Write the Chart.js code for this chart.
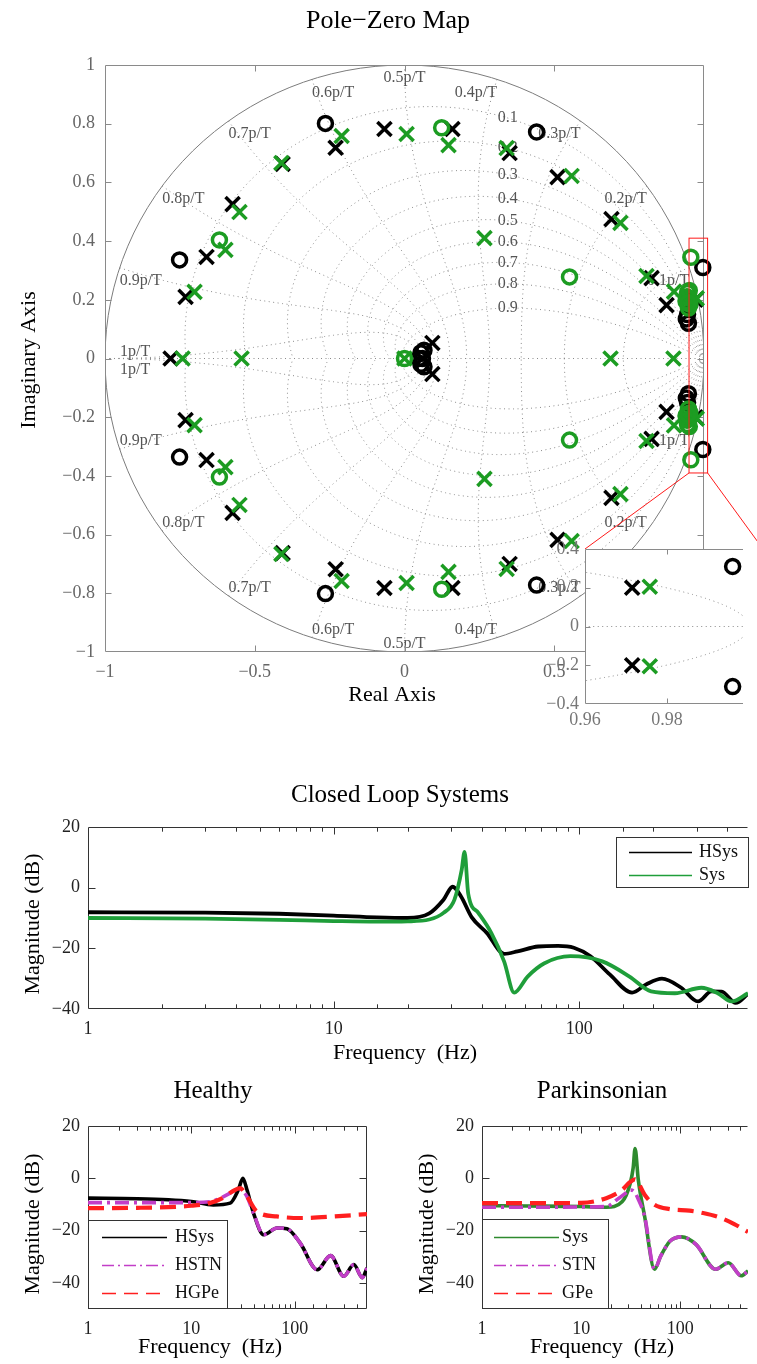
<!DOCTYPE html>
<html>
<head>
<meta charset="utf-8">
<script src="https://cdn.jsdelivr.net/npm/chart.js@4.4.1/dist/chart.umd.min.js"></script>
<style>
  body { margin: 0; background: #fff; }
  #page { position: relative; width: 757px; height: 1364px; overflow: hidden; background: #fff; }
  canvas { position: absolute; }
</style>
</head>
<body>
<div id="page">
  <canvas id="pz" width="757" height="740" style="left:0px;top:0px"></canvas>
  <canvas id="inset" width="227" height="210" style="left:530px;top:530px"></canvas>
  <canvas id="cl" width="757" height="330" style="left:0px;top:740px"></canvas>
  <canvas id="healthy" width="380" height="294" style="left:0px;top:1070px"></canvas>
  <canvas id="park" width="363" height="294" style="left:394px;top:1070px"></canvas>
</div>
<script>
'use strict'

// ---- pole-zero data: upper half-plane points (conjugates are mirrored), plus real-axis points
var hsysPoles = [[-0.731, 0.21], [-0.661, 0.346], [-0.574, 0.526], [-0.407, 0.663], [-0.23, 0.718], [-0.067, 0.782],
  [0.16, 0.782], [0.351, 0.7], [0.511, 0.618], [0.691, 0.475], [0.825, 0.274], [0.875, 0.182], [0.9715, 0.2], [0.093, 0.053]]
var hsysPolesReal = [[-0.781, 0]]
var hsysZeros = [[-0.751, 0.336], [-0.264, 0.801], [0.441, 0.772], [0.996, 0.31], [0.945, 0.15], [0.948, 0.12],
  [0.941, 0.135], [0.055, 0.02], [0.065, 0.028]]
var hsysZerosReal = [[0.06, 0], [0.048, 0]]
var sysPoles = [[-0.701, 0.227], [-0.598, 0.37], [-0.551, 0.499], [-0.411, 0.666], [-0.21, 0.758], [0.007, 0.765],
  [0.147, 0.727], [0.341, 0.717], [0.558, 0.622], [0.721, 0.462], [0.808, 0.281], [0.267, 0.41], [0.9758, 0.205], [0.9, 0.228]]
var sysPolesReal = [[-0.741, 0], [-0.544, 0], [0.688, 0], [0.898, 0], [0, 0]]
var sysZeros = [[-0.618, 0.404], [0.124, 0.786], [0.551, 0.278], [0.956, 0.345], [0.945, 0.225], [0.95, 0.205],
  [0.953, 0.185], [0.94, 0.195], [0.948, 0.172], [0.943, 0.21], [0.951, 0.232], [0.946, 0.19]]
var sysZerosReal = [[0, 0]]

// zgrid levels: damping ratios and natural frequencies (multiples of pi/T)
var dampingGrid = [0.1, 0.2, 0.3, 0.4, 0.5, 0.6, 0.7, 0.8, 0.9]
var freqGrid = [0.1, 0.2, 0.3, 0.4, 0.5, 0.6, 0.7, 0.8, 0.9, 1]
var freqLabels = ['0.1p/T', '0.2p/T', '0.3p/T', '0.4p/T', '0.5p/T', '0.6p/T', '0.7p/T', '0.8p/T', '0.9p/T', '1p/T']

// ---- closed loop magnitude (dB) vs frequency (Hz)
var clHsysF = [1, 3, 6, 10, 15, 20, 24.5, 28, 30.5, 33, 36.5, 42, 49.5, 56, 68, 82, 95, 111, 133, 164, 187, 217, 260, 304, 345, 380, 433, 486]
var clHsysDb = [-8.1, -8.2, -8.6, -9.2, -9.8, -10.0, -8.5, -4.0, 0.3, -2.9, -9.8, -14.9, -21.8, -21.0, -19.4, -19.2, -19.8, -22.6, -28.6, -34.6, -31.9, -30.0, -33.0, -37.5, -34.2, -34.3, -38.0, -35.0]
var clSysF = [1, 3, 6, 10, 15, 20, 24.5, 28, 31, 33.2, 34.1, 35.3, 38.8, 43.8, 49.4, 54.3, 61.6, 71.8, 92, 124, 160, 196, 245, 314, 366, 417, 486]
var clSysDb = [-10.0, -10.2, -10.6, -11.0, -11.2, -11.1, -10.5, -8.3, -4.0, 5.9, 11.8, -2.0, -8.3, -14.9, -24.3, -34.6, -29.3, -25.0, -22.6, -24.3, -29.3, -34.2, -34.8, -33.0, -34.8, -37.5, -34.8]

// ---- healthy
var hF = [1, 3, 6, 10, 16.3, 23.7, 28.5, 31.5, 34.5, 39.9, 50, 67.5, 84, 113, 165, 222, 298, 373, 450, 500]
var hSysDb = [-7.6, -7.8, -8.2, -8.9, -10.2, -9.5, -4.4, 0, -4.4, -13.3, -21.6, -19.0, -19.3, -24.8, -35.0, -29.6, -37.5, -33.0, -38.0, -34.3]
var hStnF = [1, 3, 10, 15, 19, 23.7, 28, 31, 34.5, 39.9, 50, 67.5, 84, 113, 165, 222, 298, 373, 450, 500]
var hStnDb = [-9.3, -9.3, -9.3, -9.0, -7.6, -5.7, -3.9, -4.6, -7.0, -13.3, -21.6, -19.0, -19.3, -24.8, -35.0, -29.6, -37.5, -33.0, -38.0, -34.3]
var hGpeF = [1, 3, 10, 15, 20, 25, 29.6, 34, 43, 67, 113, 240, 500]
var hGpeDb = [-11.4, -11.3, -10.5, -9.5, -7.6, -5.0, -3.8, -6.5, -12.7, -14.6, -15.2, -14.6, -13.7]

// ---- parkinsonian
var pSysF = [1, 3, 10, 17.9, 26, 31.3, 33.5, 35, 37.7, 43.7, 55, 63.6, 79, 103, 144, 227, 305, 413, 482]
var pSysDb = [-10.5, -10.6, -10.8, -11.1, -8.9, -1.9, 4.0, 11.4, -0.6, -14.6, -34.8, -29.7, -24.0, -22.4, -25.3, -34.8, -32.3, -37.3, -35.4]
var pStnF = [1, 3, 10, 17.9, 24, 28, 31, 34, 37.7, 43.7, 55, 63.6, 79, 103, 144, 227, 305, 413, 482]
var pStnDb = [-11.1, -11.1, -11.0, -10.8, -7.6, -5.7, -4.5, -5.0, -8.0, -14.6, -34.8, -29.7, -24.0, -22.4, -25.3, -34.8, -32.3, -37.3, -35.4]
var pGpeF = [1, 3, 10, 17.9, 26, 31, 35, 38, 43.7, 55, 79, 124, 170, 250, 350, 482]
var pGpeDb = [-9.5, -9.5, -9.4, -7.6, -4.4, -1.5, -0.4, -2.0, -6.3, -10.1, -11.8, -12.4, -13.3, -15.0, -17.5, -20.5]

var GREEN = '#1c9c22'
var FONT = '"Liberation Serif", "Times New Roman", serif'
Chart.defaults.font.family = FONT
Chart.defaults.color = '#222'

function fmt(v) {
  var s = String(+Math.abs(v).toFixed(2))
  return v < -1e-9 ? '\u2212' + s : s
}
function conj(upper, real) {
  return upper.concat(upper.map(function(p) { return [p[0], -p[1]] }), real)
    .map(function(p) { return { x: p[0], y: p[1] } })
}
function zip(f, db) {
  return f.map(function(v, i) { return { x: v, y: db[i] } })
}

// MATLAB-like zgrid: damping spirals, natural frequency curves, unit circle.
// The inset copy only keeps the dotted unit circle and real axis.
function zgrid(withLabels, inset) {
  return {
    id: 'zgrid',
    beforeDatasetsDraw: function(chart) {
      var ctx = chart.ctx, a = chart.chartArea, x = chart.scales.x, y = chart.scales.y
      var px = function(v) { return x.getPixelForValue(v) }
      var py = function(v) { return y.getPixelForValue(v) }
      var path = function(pts) {
        ctx.beginPath()
        pts.forEach(function(p, i) { i ? ctx.lineTo(px(p[0]), py(p[1])) : ctx.moveTo(px(p[0]), py(p[1])) })
        ctx.stroke()
      }
      ctx.save()
      if (inset) { ctx.fillStyle = '#fff'; ctx.fillRect(a.left, a.top, a.width, a.height) }
      ctx.beginPath(); ctx.rect(a.left, a.top, a.width, a.height); ctx.clip()
      ctx.strokeStyle = '#8a8a8a'; ctx.lineWidth = 1; ctx.setLineDash([1, 3.5])
      path([[-1, 0], [1, 0]])
      if (inset) {
        ctx.beginPath()
        ctx.ellipse(px(0), py(0), px(1) - px(0), py(0) - py(1), 0, 0, 2 * Math.PI)
        ctx.stroke(); ctx.restore()
        return
      }
      dampingGrid.forEach(function(z) {
        var k = z / Math.sqrt(1 - z * z);
        [1, -1].forEach(function(s) {
          var pts = []
          for (var i = 0; i <= 400; i++) {
            var t = Math.PI * i / 400, r = Math.exp(-k * t)
            pts.push([r * Math.cos(t), s * r * Math.sin(t)])
          }
          path(pts)
        })
      })
      freqGrid.forEach(function(f) {
        var wn = f * Math.PI;
        [1, -1].forEach(function(s) {
          var pts = []
          for (var i = 0; i <= 120; i++) {
            var z = i / 120, r = Math.exp(-z * wn), t = wn * Math.sqrt(1 - z * z)
            pts.push([r * Math.cos(t), s * r * Math.sin(t)])
          }
          path(pts)
        })
      })
      ctx.setLineDash([]); ctx.strokeStyle = '#7c7c7c'
      ctx.beginPath()
      ctx.ellipse(px(0), py(0), px(1) - px(0), py(0) - py(1), 0, 0, 2 * Math.PI)
      ctx.stroke()
      ctx.restore()
      if (!withLabels) return
      ctx.save()
      ctx.font = '16px ' + FONT; ctx.fillStyle = '#555'
      freqGrid.forEach(function(f, i) {
        var t = f * Math.PI, c = Math.cos(t), sn = Math.sin(t)
        var X = f === 1 ? px(-0.95) : px(c)
        ctx.textAlign = (c > 0.01) ? 'right' : (c < -0.01 ? 'left' : 'center');
        [1, -1].forEach(function(s) {
          var Y = py(s * sn)
          if (f === 1) {
            ctx.textBaseline = s > 0 ? 'alphabetic' : 'top'
            ctx.fillText(freqLabels[i], X, s > 0 ? Y - 3 : Y + 3)
          } else {
            ctx.textBaseline = s > 0 ? 'top' : 'alphabetic'
            ctx.fillText(freqLabels[i], X, s > 0 ? Y + 5 : Y - 4)
          }
        })
      })
      ctx.textAlign = 'center'; ctx.textBaseline = 'middle'
      dampingGrid.forEach(function(z) {
        var k = z / Math.sqrt(1 - z * z), lo = 0, hi = Math.PI / 2
        for (var i = 0; i < 40; i++) {
          var m = (lo + hi) / 2
          if (Math.exp(-k * m) * Math.cos(m) > 0.345) lo = m; else hi = m
        }
        var r = Math.exp(-k * lo)
        ctx.fillText(fmt(z), px(r * Math.cos(lo)), py(r * Math.sin(lo)))
      })
      ctx.restore()
    }
  }
}

// axes box with inward tick marks
function frame(color, len, isMajor, openRight) {
  return {
    id: 'frame',
    beforeDatasetsDraw: function(chart) {
      var ctx = chart.ctx, a = chart.chartArea, x = chart.scales.x, y = chart.scales.y
      var L = a.left + 0.5, R = a.right - 0.5, T = a.top + 0.5, B = a.bottom - 0.5
      ctx.save(); ctx.strokeStyle = color; ctx.lineWidth = 1; ctx.setLineDash([])
      ctx.beginPath()
      ctx.moveTo(R, T); ctx.lineTo(L, T); ctx.lineTo(L, B); ctx.lineTo(R, B)
      if (!openRight) ctx.lineTo(R, T)
      x.ticks.forEach(function(t) {
        var p = Math.round(x.getPixelForValue(t.value)) + 0.5
        if (p < a.left + 1 || p > a.right - 1) return
        var l = isMajor(t.value) ? len : len * 0.6
        ctx.moveTo(p, B); ctx.lineTo(p, B - l); ctx.moveTo(p, T); ctx.lineTo(p, T + l)
      })
      y.ticks.forEach(function(t) {
        var p = Math.round(y.getPixelForValue(t.value)) + 0.5
        if (p < a.top + 1 || p > a.bottom - 1) return
        ctx.moveTo(L, p); ctx.lineTo(L + len, p)
        if (!openRight) { ctx.moveTo(R, p); ctx.lineTo(R - len, p) }
      })
      ctx.stroke(); ctx.restore()
    }
  }
}

function texts(items) {
  return {
    id: 'texts',
    afterDraw: function(chart) {
      var ctx = chart.ctx
      items.forEach(function(t) {
        ctx.save()
        ctx.font = t.size + 'px ' + FONT; ctx.fillStyle = '#000'
        ctx.textAlign = 'center'; ctx.textBaseline = 'middle'
        ctx.translate(t.x, t.y)
        if (t.rot) ctx.rotate(-Math.PI / 2)
        ctx.fillText(t.text, 0, 0)
        ctx.restore()
      })
    }
  }
}

function boxLegend(order, box, lineX, textX, rows) {
  return {
    id: 'boxLegend',
    afterDraw: function(chart) {
      var ctx = chart.ctx
      ctx.save()
      ctx.fillStyle = '#fff'; ctx.fillRect(box[0], box[1], box[2] - box[0], box[3] - box[1])
      ctx.strokeStyle = '#333'; ctx.lineWidth = 1
      ctx.strokeRect(box[0] + 0.5, box[1] + 0.5, box[2] - box[0] - 1, box[3] - box[1] - 1)
      ctx.font = '18px ' + FONT; ctx.textAlign = 'left'; ctx.textBaseline = 'middle'
      order.forEach(function(label, i) {
        var ds = chart.data.datasets.filter(function(d) { return d.label === label })[0]
        var yy = rows[i] + 0.5
        ctx.strokeStyle = ds.borderColor; ctx.lineWidth = 1.5
        ctx.setLineDash(ds.legendDash || [])
        ctx.beginPath(); ctx.moveTo(lineX[0], yy); ctx.lineTo(lineX[1], yy); ctx.stroke()
        ctx.fillStyle = '#111'; ctx.fillText(label, textX, yy)
      })
      ctx.restore()
    }
  }
}

// red zoom rectangle and connectors to the inset
var zoomBox = { x0: 0.95, x1: 1.012, y0: -0.39, y1: 0.41 }
var zoomMark = {
  id: 'zoomMark',
  afterDatasetsDraw: function(chart) {
    var ctx = chart.ctx, x = chart.scales.x, y = chart.scales.y
    var l = x.getPixelForValue(zoomBox.x0), r = x.getPixelForValue(zoomBox.x1)
    var t = y.getPixelForValue(zoomBox.y1), b = y.getPixelForValue(zoomBox.y0)
    ctx.save(); ctx.strokeStyle = '#ff1a1a'; ctx.lineWidth = 1
    ctx.strokeRect(l, t, r - l, b - t)
    ctx.beginPath()
    ctx.moveTo(l, b); ctx.lineTo(585, 549)
    ctx.moveTo(r, b); ctx.lineTo(763, 549)
    ctx.stroke(); ctx.restore()
  }
}

function pzDatasets(clip) {
  var pt = function(label, data, color, style, r) {
    return { label: label, data: data, borderColor: color, backgroundColor: 'rgba(0,0,0,0)', pointBorderColor: color,
      pointBackgroundColor: 'rgba(0,0,0,0)', pointStyle: style, pointRadius: r, pointHoverRadius: r,
      pointBorderWidth: 3.5, showLine: false, clip: clip }
  }
  return [
    pt('Sys zeros', conj(sysZeros, sysZerosReal), GREEN, 'circle', 7),
    pt('Sys poles', conj(sysPoles, sysPolesReal), GREEN, 'crossRot', 10),
    pt('HSys zeros', conj(hsysZeros, hsysZerosReal), '#000', 'circle', 7),
    pt('HSys poles', conj(hsysPoles, hsysPolesReal), '#000', 'crossRot', 10)
  ]
}

function linScale(min, max, step, width, height, color, pad) {
  var s = {
    type: 'linear', min: min, max: max,
    grid: { display: false, drawTicks: false }, border: { display: false },
    ticks: { stepSize: step, includeBounds: false, callback: fmt, color: color, font: { size: 18 }, padding: pad, maxRotation: 0, autoSkip: false }
  }
  if (width) s.afterFit = function(sc) { sc.width = width }
  if (height) s.afterFit = function(sc) { sc.height = height }
  return s
}

var baseOpts = { responsive: false, animation: false, events: [], plugins: { legend: { display: false }, tooltip: { enabled: false }, title: { display: false } } }

// ---- Pole-zero map
new Chart(document.getElementById('pz'), {
  type: 'scatter',
  data: { datasets: pzDatasets(false) },
  options: Object.assign({}, baseOpts, {
    layout: { padding: { top: 65, right: 53, left: 0, bottom: 0 } },
    scales: {
      x: linScale(-1, 1, 0.5, 0, 88, '#666', 9),
      y: linScale(-1, 1, 0.2, 105, 0, '#666', 10)
    }
  }),
  plugins: [zgrid(true, false), frame('#8a8a8a', 6, function() { return true }, false), zoomMark, texts([
    { text: 'Pole\u2212Zero Map', x: 388, y: 21, size: 26 },
    { text: 'Imaginary Axis', x: 29, y: 360, size: 22, rot: true },
    { text: 'Real Axis', x: 392, y: 695, size: 22 }
  ])]
})

// ---- Inset zoom
new Chart(document.getElementById('inset'), {
  type: 'scatter',
  data: { datasets: pzDatasets(0) },
  options: Object.assign({}, baseOpts, {
    layout: { padding: { top: 19, right: 0, left: 0, bottom: 0 } },
    scales: {
      x: linScale(0.96, 0.99865, 0.02, 0, 36, '#777', 5),
      y: linScale(-0.4, 0.4, 0.2, 55, 0, '#777', 6)
    }
  }),
  plugins: [zgrid(false, true), frame('#8a8a8a', 5, function() { return true }, true)]
})

// ---- Bode magnitude charts
function isDecade(v) { var l = Math.log10(v); return Math.abs(l - Math.round(l)) < 1e-9 }
function bode(id, datasets, fmax, ymin, padRight, extraPlugins) {
  return new Chart(document.getElementById(id), {
    type: 'line',
    data: { datasets: datasets.map(function(d) {
      return Object.assign({ pointRadius: 0, fill: false, cubicInterpolationMode: 'monotone', borderJoinStyle: 'round' }, d)
    }) },
    options: Object.assign({}, baseOpts, {
      layout: { padding: { top: id === 'cl' ? 87 : 56, right: padRight, left: 0, bottom: 0 } },
      scales: {
        x: {
          type: 'logarithmic', min: 1, max: fmax,
          grid: { display: false, drawTicks: false }, border: { display: false },
          ticks: { autoSkip: false, maxRotation: 0, color: '#222', font: { size: 18 }, padding: 9,
            callback: function(v) { return (v === 1 || v === 10 || v === 100) ? String(v) : '' } },
          afterFit: function(sc) { sc.height = id === 'cl' ? 61 : 55 }
        },
        y: linScale(ymin, 20, 20, 88, 0, '#222', 8)
      }
    }),
    plugins: [frame('#333', 7, isDecade, padRight === 0)].concat(extraPlugins)
  })
}

var RED = '#ff1f1f', MAGENTA = '#c23ec8'

bode('cl', [
  { label: 'Sys', data: zip(clSysF, clSysDb), borderColor: '#1f9e3a', borderWidth: 3.8 },
  { label: 'HSys', data: zip(clHsysF, clHsysDb), borderColor: '#000', borderWidth: 3.8 }
], 486, -40, 0, [
  boxLegend(['HSys', 'Sys'], [616, 97, 749, 148], [629, 692], 699, [112, 135]),
  texts([
    { text: 'Closed Loop Systems', x: 400, y: 55, size: 25 },
    { text: 'Magnitude (dB)', x: 33, y: 184, size: 22, rot: true },
    { text: 'Frequency  (Hz)', x: 405, y: 313, size: 22 }
  ])
])

bode('healthy', [
  { label: 'HGPe', data: zip(hGpeF, hGpeDb), borderColor: RED, borderWidth: 4.2, borderDash: [16, 8], legendDash: [14, 8] },
  { label: 'HSTN', data: zip(hStnF, hStnDb), borderColor: MAGENTA, borderWidth: 3.6, borderDash: [14, 5, 3, 5], legendDash: [12, 4, 2, 4] },
  { label: 'HSys', data: zip(hF, hSysDb), borderColor: '#000', borderWidth: 3.6 }
], 500, -50, 13, [
  boxLegend(['HSys', 'HSTN', 'HGPe'], [88, 150, 228, 239], [102, 167], 175, [167, 195, 223]),
  texts([
    { text: 'Healthy', x: 213, y: 21, size: 25 },
    { text: 'Magnitude (dB)', x: 33, y: 154, size: 22, rot: true },
    { text: 'Frequency  (Hz)', x: 210, y: 277, size: 22 }
  ])
])

bode('park', [
  { label: 'GPe', data: zip(pGpeF, pGpeDb), borderColor: RED, borderWidth: 4.2, borderDash: [16, 8], legendDash: [14, 8] },
  { label: 'STN', data: zip(pStnF, pStnDb), borderColor: MAGENTA, borderWidth: 3.6, borderDash: [14, 5, 3, 5], legendDash: [12, 4, 2, 4] },
  { label: 'Sys', data: zip(pSysF, pSysDb), borderColor: '#2e8a2e', borderWidth: 3.6 }
], 482, -50, 0, [
  boxLegend(['Sys', 'STN', 'GPe'], [88, 149, 215, 239], [100, 165], 168, [167, 195, 223]),
  texts([
    { text: 'Parkinsonian', x: 208, y: 21, size: 25 },
    { text: 'Magnitude (dB)', x: 33, y: 154, size: 22, rot: true },
    { text: 'Frequency  (Hz)', x: 208, y: 277, size: 22 }
  ])
])
</script>
</body>
</html>
